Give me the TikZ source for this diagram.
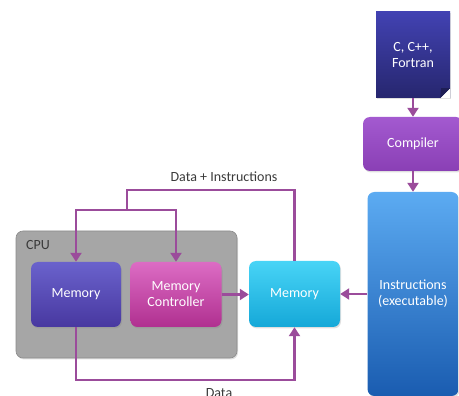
\documentclass[tikz,border=0pt]{standalone}
\usepackage{fontspec}
\setmainfont{Carlito}
\usetikzlibrary{arrows.meta,shadows}
\definecolor{linec}{HTML}{9B4C9B}
\definecolor{lbl}{HTML}{3A3A3A}
\definecolor{mlT}{HTML}{6A62CC}\definecolor{mlB}{HTML}{4838A0}
\definecolor{ctT}{HTML}{DC6CC4}\definecolor{ctB}{HTML}{B03090}
\definecolor{mrT}{HTML}{48D4F6}\definecolor{mrB}{HTML}{15A8D8}
\definecolor{inT}{HTML}{5CABF2}\definecolor{inB}{HTML}{1A5CB0}
\definecolor{coT}{HTML}{A35AD0}\definecolor{coB}{HTML}{8A3FB5}
\definecolor{dcT}{HTML}{4242B2}\definecolor{dcB}{HTML}{26266E}
\definecolor{fold}{HTML}{1E1E55}
\begin{document}
\begin{tikzpicture}[x=1pt,y=-1pt,
  box/.style={rounded corners=7pt, inner sep=0pt, text=white, align=center,
    font=\fontsize{14}{16}\selectfont,
    drop shadow={opacity=0.25, shadow xshift=1pt, shadow yshift=-1.5pt}},
  arr/.style={draw=linec, line width=2.2pt, -{Triangle[width=11pt,length=9pt]}},
  wire/.style={draw=linec, line width=2.2pt},
  lab/.style={text=lbl, font=\fontsize{14}{16}\selectfont, inner sep=0pt}]
\useasboundingbox (0,0) rectangle (459,396);
% CPU container
\node[box, fill=black!35, draw=black!45, line width=0.6pt, minimum width=221pt, minimum height=127pt] (cpu) at (126.5,294.5) {};
\node[lab, anchor=base west] (cpulab) at (26,250) {CPU};
% inner boxes
\node[box, top color=mlT, bottom color=mlB, minimum width=90pt, minimum height=65pt] (memL) at (76,294.5) {Memory};
\node[box, top color=ctT, bottom color=ctB, minimum width=91pt, minimum height=65pt] (ctrl) at (176,294.5) {Memory\\Controller};
\node[box, top color=mrT, bottom color=mrB, minimum width=91pt, minimum height=66pt] (memR) at (294.5,294) {Memory};
% right column
\node[box, top color=inT, bottom color=inB, minimum width=91pt, minimum height=204pt] (instr) at (413,294) {Instructions\\(executable)};
\node[box, top color=coT, bottom color=coB, minimum width=100pt, minimum height=54pt] (comp) at (413,144) {Compiler};
\node[box, rounded corners=0pt, top color=dcT, bottom color=dcB, minimum width=74pt, minimum height=86pt] (doc) at (413,55) {C, C++,\\Fortran};
\fill[white] (doc.south east) -- ++(-10,0) -- ++(10,-10) -- cycle;
\fill[fold] (doc.south east) ++(-10,0) -- ++(10,-10) -- ++(-9,0) -- cycle;
% connectors
\draw[arr] (doc.south) -- (comp.north);
\draw[arr] (comp.south) -- (instr.north);
\draw[arr] (instr.west) -- (memR.east);
\draw[arr] (ctrl.east) -- (ctrl.east -| memR.west);
\coordinate (top) at (127,190);
\coordinate (split) at (127,210);
\draw[wire] (memR.north) |- (top) -- (split);
\draw[arr] (split) -| (memL.north);
\draw[arr] (split) -| (ctrl.north);
\coordinate (dl) at (76,380);
\draw[arr] (memL.south) -- (dl) -| (memR.south);
% labels
\node[lab, anchor=base] (dilab) at (224,182) {Data + Instructions};
\node[lab, anchor=base] (dlab) at (219,397) {Data};
\end{tikzpicture}
\end{document}
